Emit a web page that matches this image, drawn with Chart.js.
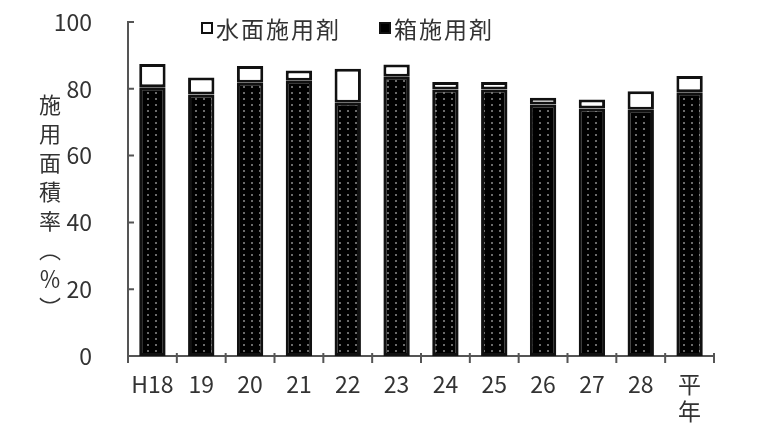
<!DOCTYPE html>
<html>
<head>
<meta charset="utf-8">
<script src="https://cdn.jsdelivr.net/npm/chart.js@4/dist/chart.umd.min.js"></script>
<style>
  html, body { margin: 0; padding: 0; background: #fff; }
  #wrap { position: relative; width: 768px; height: 432px; }
  #legend { position: absolute; left: 201px; top: 11px; display: flex; font-family: "Noto Sans CJK JP", sans-serif; font-size: 23px; color: #333; letter-spacing: 2px; }
  #legend .item { display: flex; align-items: center; margin-right: 38px; }
  #legend .box { width: 8px; height: 8px; border: 2.5px solid #111; margin-right: 3px; }
  #ytitle { position: absolute; left: 38px; top: 94px; writing-mode: vertical-rl; font-family: "Noto Sans CJK JP", sans-serif; font-size: 22px; line-height: 24px; letter-spacing: 7px; color: #333; }
</style>
</head>
<body>
<div id="wrap">
  <canvas id="chart" width="768" height="432"></canvas>
  <div id="legend"></div>
  <div id="ytitle">施用面積率（％）</div>
</div>
<script>
// データ
const categories = ['H18', '19', '20', '21', '22', '23', '24', '25', '26', '27', '28', ['平', '年']];
const boxValues = [80.5, 78.3, 81.8, 82.4, 75.8, 83.6, 79.8, 79.8, 75.3, 74.1, 73.7, 79.0];   // 箱施用剤
const waterValues = [6.9, 5.1, 5.0, 3.1, 10.2, 3.7, 2.2, 2.2, 2.0, 2.7, 5.6, 4.8];          // 水面施用剤
const yTicks = [0, 20, 40, 60, 80, 100];
const seriesNames = ['水面施用剤', '箱施用剤'];

// 黒地に灰色の点のパターン
const makePattern = () => {
    const c = document.createElement('canvas');
    c.width = 8;
    c.height = 6;
    const g = c.getContext('2d');
    g.fillStyle = '#000';
    g.fillRect(0, 0, 8, 6);
    g.fillStyle = '#6a6a6a';
    g.fillRect(3, 2, 2, 2);
    return g.createPattern(c, 'repeat');
};
const ctx = document.getElementById('chart').getContext('2d');
const dotted = makePattern();

// 軸の目盛り線（y は内向き、x は区切り位置）
const axisTicks = {
    id: 'axisTicks',
    afterDatasetsDraw(chart) {
        const { ctx, chartArea } = chart;
        const x = chart.scales.x, y = chart.scales.y;
        ctx.save();
        ctx.strokeStyle = '#555';
        ctx.lineWidth = 2;
        ctx.beginPath();
        yTicks.forEach(v => {
            const py = y.getPixelForValue(v);
            ctx.moveTo(chartArea.left, py);
            ctx.lineTo(chartArea.left + 6, py);
        });
        for (let i = 0; i <= categories.length; i++) {
            const px = i < categories.length
                ? x.getPixelForValue(i) - x.width / categories.length / 2
                : chartArea.right;
            ctx.moveTo(px, chartArea.bottom - 3);
            ctx.lineTo(px, chartArea.bottom + 7);
        }
        ctx.stroke();
        ctx.restore();
    }
};

const tickFont = { family: '"Noto Sans CJK JP", sans-serif', size: 23 };

const chart = new Chart(ctx, {
    type: 'bar',
    data: {
        labels: categories,
        datasets: [
            {
                label: seriesNames[1],
                data: boxValues,
                backgroundColor: dotted,
                borderColor: '#111',
                borderWidth: 3,
                borderSkipped: false,
                barPercentage: 0.54,
                categoryPercentage: 1
            },
            {
                label: seriesNames[0],
                data: waterValues,
                backgroundColor: '#fff',
                borderColor: '#111',
                borderWidth: 3,
                borderSkipped: false,
                barPercentage: 0.54,
                categoryPercentage: 1
            }
        ]
    },
    options: {
        responsive: false,
        animation: false,
        devicePixelRatio: 1,
        layout: { padding: { left: 0, right: 54, top: 22, bottom: 0 } },
        scales: {
            x: {
                stacked: true,
                grid: { display: false },
                border: { color: '#555', width: 2 },
                ticks: {
                    color: '#333',
                    padding: 6,
                    maxRotation: 0,
                    font: tickFont
                },
                afterFit: (scale) => { scale.height = 76; }
            },
            y: {
                stacked: true,
                min: 0,
                max: 100,
                grid: { display: false },
                border: { color: '#555', width: 2 },
                ticks: {
                    stepSize: 20,
                    color: '#333',
                    padding: 28,
                    font: tickFont
                },
                afterFit: (scale) => {
                    scale.width = 128;
                    scale.paddingTop = 0;
                    scale.paddingBottom = 0;
                }
            }
        },
        plugins: {
            legend: { display: false },
            tooltip: { enabled: false }
        }
    },
    plugins: [axisTicks]
});

// 凡例（HTML）
const legend = document.getElementById('legend');
[[seriesNames[0], '#fff'], [seriesNames[1], '#000']].forEach(([name, fill]) => {
    const item = document.createElement('div');
    item.className = 'item';
    const box = document.createElement('span');
    box.className = 'box';
    box.style.background = fill;
    item.appendChild(box);
    item.appendChild(document.createTextNode(name));
    legend.appendChild(item);
});
</script>
</body>
</html>
